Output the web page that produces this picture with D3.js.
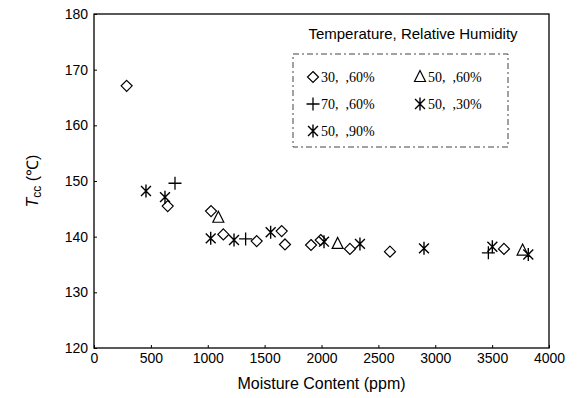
<!DOCTYPE html>
<html>
<head>
<meta charset="utf-8">
<script src="https://cdn.jsdelivr.net/npm/d3@7"></script>
<style>
  body { margin: 0; background: #fff; }
  svg { display: block; }
</style>
</head>
<body>
<div id="chart"></div>
<script>
// Moisture content (ppm) and Tcc (°C)
const d30_60 = [[287, 167.1], [648, 145.5], [1029, 144.6], [1137, 140.4], [1430, 139.2],
                [1650, 141.0], [1679, 138.6], [1908, 138.5], [1993, 139.4], [2250, 137.8],
                [2602, 137.3], [3604, 137.8]];
const d50_60 = [[1093, 143.4], [2142, 138.7], [3768, 137.5]];
const d70_60 = [[712, 149.6], [1333, 139.6], [3467, 137.1]];
const d50_30 = [[457, 148.2], [1026, 139.7], [1553, 140.8], [2022, 139.1], [2901, 137.9], [3502, 138.2]];
const d50_90 = [[624, 147.1], [1231, 139.4], [2338, 138.7], [3818, 136.8]];

const xTicks = [0, 500, 1000, 1500, 2000, 2500, 3000, 3500, 4000];
const yTicks = [120, 130, 140, 150, 160, 170, 180];

const seriesNames = ["30,  ,60%", "50,  ,60%", "70,  ,60%", "50,  ,30%", "50,  ,90%"];
const seriesShapes = ["diamond", "triangle", "plus", "star", "star"];
const seriesData = [d30_60, d50_60, d70_60, d50_30, d50_90];

const width = 577, height = 398;
const margin = { top: 14, right: 28, bottom: 50, left: 94 };

const svg = d3.select("#chart").append("svg")
    .attr("width", width)
    .attr("height", height);

const x = d3.scaleLinear().domain([0, 4000]).range([margin.left, width - margin.right]);
const y = d3.scaleLinear().domain([120, 180]).range([height - margin.bottom, margin.top]);

// frame
svg.append("rect")
    .attr("x", margin.left)
    .attr("y", margin.top)
    .attr("width", x(4000) - x(0))
    .attr("height", y(120) - y(180))
    .attr("fill", "none")
    .attr("stroke", "#000")
    .attr("stroke-width", 1.3);

// axes (ticks pointing inside)
const xAxis = svg.append("g")
    .attr("transform", `translate(0,${y(120)})`)
    .call(d3.axisBottom(x).tickValues(xTicks).tickSize(-3).tickPadding(5).tickFormat(d3.format("d")));
const yAxis = svg.append("g")
    .attr("transform", `translate(${x(0)},0)`)
    .call(d3.axisLeft(y).tickValues(yTicks).tickSize(-3).tickPadding(6));

[xAxis, yAxis].forEach(g => {
    g.select(".domain").remove();
    g.selectAll("text")
        .style("font-family", "Liberation Sans, Arial, sans-serif")
        .style("font-size", "14px")
        .attr("fill", "#000");
});

// axis labels
svg.append("text")
    .attr("x", (x(0) + x(4000)) / 2)
    .attr("y", 389)
    .attr("text-anchor", "middle")
    .style("font-family", "Liberation Sans, Arial, sans-serif")
    .style("font-size", "16px")
    .text("Moisture Content (ppm)");

const yl = svg.append("text")
    .attr("transform", `translate(38,${(y(120) + y(180)) / 2}) rotate(-90)`)
    .attr("text-anchor", "middle")
    .style("font-family", "Liberation Sans, Arial, sans-serif")
    .style("font-size", "16px");
yl.append("tspan").style("font-style", "italic").text("T");
yl.append("tspan").attr("dy", 3).style("font-size", "12px").text("cc");
yl.append("tspan").attr("dy", -3).text(" (\u2103)");

// marker drawing
function drawMarker(g, shape, cx, cy) {
    const s = 5.5;
    if (shape === "diamond") {
        g.append("path")
            .attr("d", `M${cx},${cy - s}L${cx + s},${cy}L${cx},${cy + s}L${cx - s},${cy}Z`)
            .attr("fill", "none").attr("stroke", "#000").attr("stroke-width", 1.2);
    } else if (shape === "triangle") {
        g.append("path")
            .attr("d", `M${cx},${cy - s - 1}L${cx + s},${cy + s - 1}L${cx - s},${cy + s - 1}Z`)
            .attr("fill", "none").attr("stroke", "#000").attr("stroke-width", 1.2);
    } else if (shape === "plus") {
        g.append("path")
            .attr("d", `M${cx - s - 1},${cy}H${cx + s + 1}M${cx},${cy - s - 1}V${cy + s + 1}`)
            .attr("fill", "none").attr("stroke", "#000").attr("stroke-width", 1.3);
    } else {
        const d = s * 0.9;
        g.append("path")
            .attr("d", `M${cx},${cy - s - 1}V${cy + s + 1}M${cx - d},${cy - d}L${cx + d},${cy + d}M${cx - d},${cy + d}L${cx + d},${cy - d}`)
            .attr("fill", "none").attr("stroke", "#000").attr("stroke-width", 1.4);
    }
}

const pts = svg.append("g");
seriesData.forEach((data, i) => {
    data.forEach(d => drawMarker(pts, seriesShapes[i], x(d[0]), y(d[1])));
});

// legend
svg.append("text")
    .attr("x", 413)
    .attr("y", 39)
    .attr("text-anchor", "middle")
    .style("font-family", "Liberation Sans, Arial, sans-serif")
    .style("font-size", "15px")
    .text("Temperature, Relative Humidity");

svg.append("rect")
    .attr("x", 293).attr("y", 54)
    .attr("width", 215).attr("height", 93)
    .attr("fill", "none")
    .attr("stroke", "#444")
    .attr("stroke-width", 1)
    .attr("stroke-dasharray", "6 3 2 3");

const legendPos = [[313, 77], [420, 77], [313, 104], [420, 104], [313, 131]];
const leg = svg.append("g");
seriesNames.forEach((name, i) => {
    const [lx, ly] = legendPos[i];
    drawMarker(leg, seriesShapes[i], lx, ly);
    leg.append("text")
        .attr("x", lx + 8)
        .attr("y", ly + 5)
        .style("white-space", "pre")
        .style("font-family", "Liberation Serif, Times New Roman, serif")
        .style("font-size", "14px")
        .text(name);
});
</script>
</body>
</html>
